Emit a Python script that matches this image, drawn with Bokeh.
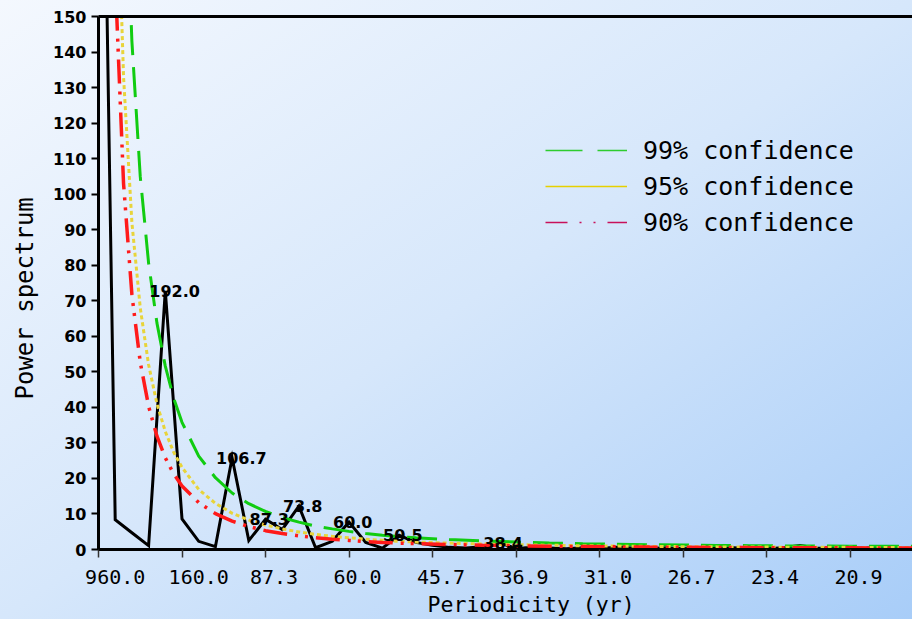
from bokeh.plotting import figure
from bokeh.models import Range1d, FixedTicker, CustomJSTickFormatter, LinearAxis, Legend, LegendItem, Title
from bokeh.core.properties import value
from bokeh.embed import file_html
from bokeh.resources import INLINE

# ---------------- data ----------------
harmonic = list(range(1, 51))
power = [300, 8.4, 4.7, 1.1, 72.8, 8.6, 2.3, 0.8, 25.8, 2.5,
         8.5, 5.6, 12.2, 0.5, 2.3, 7.7, 2.0, 0.4, 4.0, 2.0,
         1.2, 0.6, 0.4, 0.8, 1.9, 0.3, 0.6, 0.4, 0.2, 0.5,
         0.3, 0.6, 0.4, 0.3, 0.5, 0.2, 0.4, 0.3, 0.5, 0.3,
         0.2, 0.5, 1.1, 0.4, 0.3, 0.2, 0.4, 0.3, 0.2, 0.3]

curve_k = [1.5, 2, 2.5, 3, 3.5, 4, 4.5, 5, 5.5, 6, 7, 8, 9, 10, 11, 12, 13, 14, 15, 16,
           17, 18, 19, 20, 22, 24, 26, 28, 30, 32, 34, 36, 38, 40, 42, 44, 46, 48, 50]
conf99 = [573, 322, 206, 143, 105, 80.6, 63.7, 51.6, 42.6, 35.8, 26.3, 20.2, 15.9, 12.9, 10.7,
          9.0, 7.7, 6.6, 5.8, 5.1, 4.5, 4.0, 3.6, 3.3, 2.8, 2.4, 2.1, 1.85, 1.65, 1.5,
          1.35, 1.25, 1.15, 1.08, 1.02, 0.97, 0.93, 0.9, 0.88]
conf95 = [369, 207, 133, 92, 68, 52, 41, 33.2, 27.4, 23.1, 16.9, 13.0, 10.2, 8.3, 6.9,
          5.8, 4.95, 4.25, 3.7, 3.3, 2.9, 2.6, 2.3, 2.1, 1.8, 1.55, 1.35, 1.2, 1.06, 0.96,
          0.87, 0.8, 0.74, 0.7, 0.66, 0.62, 0.6, 0.58, 0.57]
conf90 = [287, 161, 103, 71.7, 52.7, 40.3, 31.9, 25.8, 21.3, 17.9, 13.2, 10.1, 8.0, 6.45, 5.3,
          4.5, 3.85, 3.3, 2.9, 2.55, 2.25, 2.0, 1.8, 1.65, 1.4, 1.2, 1.05, 0.93, 0.83, 0.75,
          0.68, 0.62, 0.58, 0.54, 0.51, 0.48, 0.46, 0.45, 0.44]

tick_k = [1, 6, 11, 16, 21, 26, 31, 36, 41, 46]
tick_labels = ["960.0", "160.0", "87.3", "60.0", "45.7", "36.9", "31.0", "26.7", "23.4", "20.9"]
y_ticks = list(range(0, 151, 10))

peak_k = [5, 9, 11, 13, 16, 19, 25]
peak_labels = ["192.0", "106.7", "87.3", "73.8", "60.0", "50.5", "38.4"]

series_names = ["99% confidence", "95% confidence", "90% confidence"]
x_title = "Periodicity (yr)"
y_title = "Power spectrum"

# ---------------- figure ----------------
p = figure(width=912, height=619, x_range=Range1d(1, 49.74), y_range=Range1d(0, 150),
           output_backend="svg", toolbar_location=None,
           min_border_left=98, min_border_right=0, min_border_top=16, min_border_bottom=69,
           background_fill_color=None, border_fill_color=None, outline_line_color=None)
p.styles = {"background": "linear-gradient(to bottom right, #f4f8fe 0%, #d6e7fb 50%, #a8cdf8 100%)"}
p.xgrid.visible = False
p.ygrid.visible = False

# x axis: ticks at harmonic positions, labels shifted right like the original
label_pos = [round(t + (1.0 if len(s) == 5 else 0.51), 2) for t, s in zip(tick_k, tick_labels)]
label_map = {f"{pos:.2f}": s for pos, s in zip(label_pos, tick_labels)}
xa = p.xaxis[0]
xa.ticker = FixedTicker(ticks=label_pos, minor_ticks=tick_k)
xa.formatter = CustomJSTickFormatter(args=dict(m=label_map), code="return m[tick.toFixed(2)] || ''")
xa.major_tick_out = 0
xa.major_tick_in = 0
xa.minor_tick_out = 8
xa.minor_tick_in = 0
xa.minor_tick_line_color = "#333333"
xa.minor_tick_line_width = 1.5
xa.axis_line_width = 3
xa.axis_line_color = "black"
xa.major_label_text_font = "DejaVu Sans Mono"
xa.major_label_text_font_size = "20px"
xa.major_label_text_color = "black"
xa.major_label_standoff = 12

ya = p.yaxis[0]
ya.ticker = FixedTicker(ticks=y_ticks)
ya.major_tick_out = 7
ya.major_tick_in = 0
ya.major_tick_line_width = 2
ya.major_tick_line_color = "black"
ya.minor_tick_out = 0
ya.minor_tick_in = 0
ya.axis_line_width = 3
ya.axis_line_color = "black"
ya.major_label_text_font = "DejaVu Sans"
ya.major_label_text_font_style = "bold"
ya.major_label_text_font_size = "16px"
ya.major_label_text_color = "black"
ya.major_label_standoff = 5

top = LinearAxis(ticker=FixedTicker(ticks=[]), axis_line_width=3, axis_line_color="black",
                 major_tick_out=0, major_tick_in=0, minor_tick_out=0, minor_tick_in=0,
                 major_label_text_font_size="0px", major_label_standoff=0)
p.add_layout(top, "above")

# axis titles (the original's are not centred on the visible frame)
p.add_layout(Title(text=x_title, align="left", offset=329, standoff=6,
                   text_font="DejaVu Sans Mono", text_font_size="21.5px",
                   text_font_style="normal", text_color="black"), "below")
p.add_layout(Title(text=y_title, align="left", offset=150, standoff=19, vertical_align="top",
                   text_font="DejaVu Sans Mono", text_font_size="24px",
                   text_font_style="normal", text_color="black"), "left")

# ---------------- data lines ----------------
p.line(harmonic, power, line_color="black", line_width=3, line_join="miter")
p.line(curve_k, conf99, line_color="#11cc11", line_width=3, line_dash="30 12")
p.line(curve_k, conf95, line_color="#e8d43a", line_width=3, line_dash="4 3")
p.line(curve_k, conf90, line_color="#ff1a1a", line_width=3.5, line_dash="24 8 3 7 3 8")

peak_y = [power[harmonic.index(pk)] for pk in peak_k]
p.text(x=peak_k, y=peak_y, text=peak_labels, text_font=value("DejaVu Sans"),
       text_font_style="bold", text_font_size="16px", text_color="black",
       text_align="left", text_baseline="alphabetic", x_offset=-16)

# ---------------- legend (thin sample lines as in the original) ----------------
# proxy renderers placed outside the visible range, only used for the legend samples
l99 = p.line([-5, -4], [-5, -5], line_color="#2ecc2e", line_width=1.5, line_dash="37 15")
l95 = p.line([-5, -4], [-5, -5], line_color="#e6d000", line_width=1.5)
l90 = p.line([-5, -4], [-5, -5], line_color="#c8105a", line_width=1.5, line_dash="22 12 2 12 2 12")
legend = Legend(items=[LegendItem(label=series_names[0], renderers=[l99]),
                       LegendItem(label=series_names[1], renderers=[l95]),
                       LegendItem(label=series_names[2], renderers=[l90])],
                location=(447, 309), glyph_width=82, glyph_height=36, label_height=36,
                label_standoff=16, spacing=0, padding=0, margin=0,
                border_line_color=None, background_fill_alpha=0,
                label_text_font="DejaVu Sans Mono", label_text_font_size="25px",
                label_text_color="black")
p.add_layout(legend)

open("out.html", "w").write(file_html(p, INLINE))
